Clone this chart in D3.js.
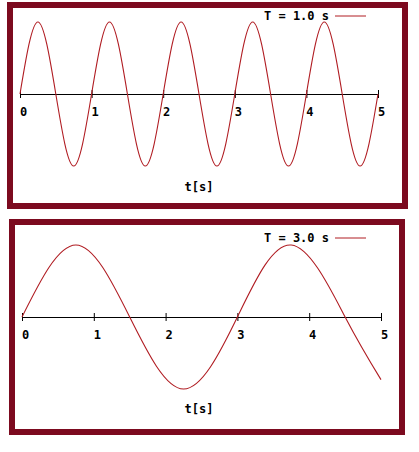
<!DOCTYPE html>
<html>
<head>
<meta charset="utf-8">
<script src="https://cdn.jsdelivr.net/npm/d3@7"></script>
<style>
  body { margin: 0; background: #fff; }
  text { font-family: "DejaVu Sans Mono", monospace; font-weight: bold; font-size: 12px; fill: #000; }
</style>
</head>
<body>
<svg id="chart" width="419" height="452"></svg>
<script>
// values at quarter-period steps
var tTop = [0, 0.25, 0.5, 0.75, 1, 1.25, 1.5, 1.75, 2, 2.25, 2.5, 2.75, 3, 3.25, 3.5, 3.75, 4, 4.25, 4.5, 4.75, 5];
var yTop = [0, 1, 0, -1, 0, 1, 0, -1, 0, 1, 0, -1, 0, 1, 0, -1, 0, 1, 0, -1, 0];
var tBottom = [0, 0.75, 1.5, 2.25, 3, 3.75, 4.5, 5];
var yBottom = [0, 1, 0, -1, 0, 1, 0, -0.87];
var xTicks = [0, 1, 2, 3, 4, 5];
var legendTop = "T = 1.0 s";
var legendBottom = "T = 3.0 s";
var axisTitle = "t[s]";

var svg = d3.select("#chart");
var red = "#b01c22";
var border = "#7c0a1f";

function panel(box, x0, x1, axisY, amp, ts, ys, legend, legY, titleY) {
  svg.append("rect")
    .attr("x", box[0] + 3).attr("y", box[1] + 3)
    .attr("width", box[2] - 6).attr("height", box[3] - 6)
    .attr("fill", "#fff").attr("stroke", border).attr("stroke-width", 6);

  var x = d3.scaleLinear().domain([0, 5]).range([x0, x1]);
  var y = d3.scaleLinear().domain([-1, 1]).range([axisY + amp, axisY - amp]);

  var g = svg.append("g").attr("transform", "translate(0," + axisY + ")");
  g.call(d3.axisBottom(x).tickValues(xTicks).tickSize(0).tickPadding(13).tickFormat(d3.format("d")));
  g.select(".domain").attr("stroke", "#000").attr("stroke-width", 1.2);
  g.selectAll(".tick text").attr("dx", 3).style("font-size", "12px").attr("font-family", null);
  g.selectAll(".tick").append("line").attr("y1", -4).attr("y2", 4).attr("stroke", "#000");

  var pts = ts.map(function (t, i) { return { t: t, v: ys[i] }; });
  var line = d3.line()
    .x(function (d) { return x(d.t); })
    .y(function (d) { return y(d.v); })
    .curve(d3.curveNatural);
  svg.append("path").datum(pts)
    .attr("fill", "none").attr("stroke", red).attr("stroke-width", 1.1)
    .attr("d", line);

  svg.append("text").attr("x", 264).attr("y", legY).text(legend);
  svg.append("line").attr("x1", 335).attr("x2", 366)
    .attr("y1", legY - 4).attr("y2", legY - 4).attr("stroke", red);

  svg.append("text").attr("x", 199).attr("y", titleY)
    .attr("text-anchor", "middle").text(axisTitle);
}

panel([7, 2, 401, 207], 20, 378, 94, 72, tTop, yTop, legendTop, 20, 191);
panel([9, 219, 396, 216], 22, 381, 317, 72, tBottom, yBottom, legendBottom, 242, 413);
</script>
</body>
</html>
